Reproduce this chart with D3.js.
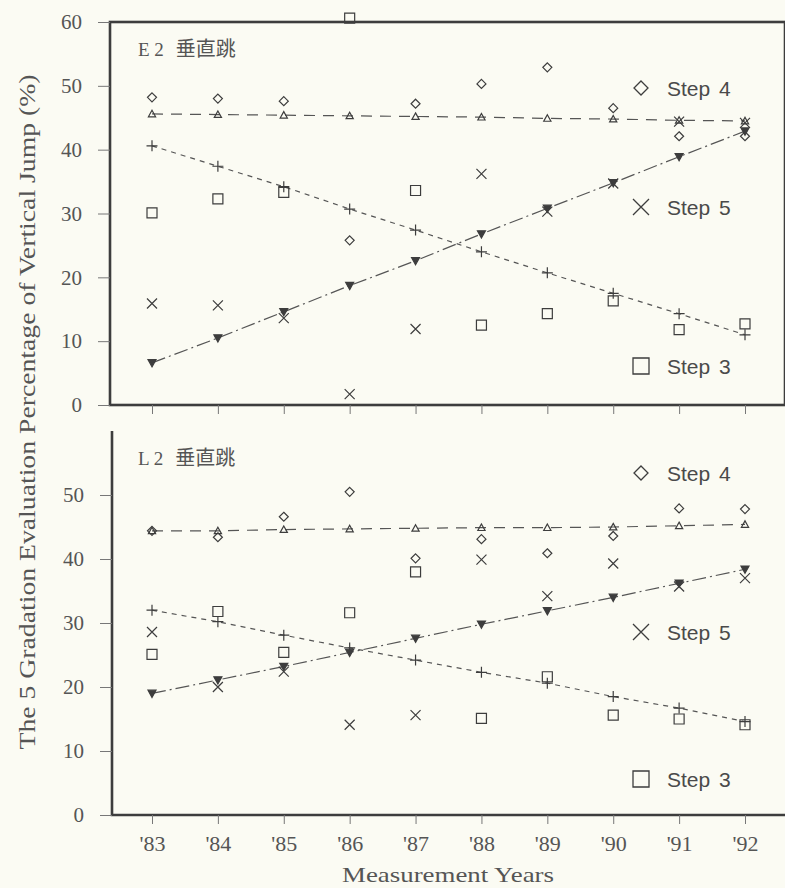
<!DOCTYPE html>
<html>
<head>
<meta charset="utf-8">
<script src="https://cdn.jsdelivr.net/npm/d3@7"></script>
<style>
  html, body { margin: 0; padding: 0; background: #fbfbf3; }
  svg { display: block; }
</style>
</head>
<body>
<svg id="chart" width="785" height="888"></svg>
<script>
'use strict'

const years = ["'83", "'84", "'85", "'86", "'87", "'88", "'89", "'90", "'91", "'92"]
const yTicksTop = [0, 10, 20, 30, 40, 50, 60]
const yTicksBottom = [0, 10, 20, 30, 40, 50]

// E2 panel
const e2Step4 = [48.2, 48.0, 47.6, 25.8, 47.2, 50.3, 52.9, 46.5, 42.1, 42.1]
const e2Step5 = [15.9, 15.6, 13.6, 1.7, 11.9, 36.2, 30.3, 34.7, 44.4, 44.2]
const e2Step3 = [30.1, 32.3, 33.3, 60.6, 33.6, 12.5, 14.3, 16.3, 11.8, 12.7]
const e2TrendUp = [45.6, 45.5, 45.4, 45.3, 45.2, 45.1, 44.9, 44.8, 44.6, 44.5]
const e2TrendPlus = [40.6, 37.4, 34.2, 30.7, 27.4, 24.0, 20.7, 17.5, 14.3, 11.0]
const e2TrendDown = [6.6, 10.5, 14.6, 18.7, 22.6, 26.8, 30.8, 34.8, 38.9, 42.9]

// L2 panel
const l2Step4 = [44.4, 43.4, 46.6, 50.5, 40.1, 43.1, 40.9, 43.6, 47.9, 47.8]
const l2Step5 = [28.6, 20.0, 22.4, 14.1, 15.6, 39.9, 34.2, 39.3, 35.7, 37.0]
const l2Step3 = [25.1, 31.8, 25.4, 31.6, 38.0, 15.1, 21.6, 15.6, 15.0, 14.1]
const l2TrendUp = [44.4, 44.4, 44.6, 44.7, 44.8, 44.9, 44.9, 45.0, 45.2, 45.4]
const l2TrendPlus = [32.0, 30.2, 28.1, 26.1, 24.2, 22.3, 20.6, 18.5, 16.7, 14.6]
const l2TrendDown = [19.0, 21.1, 23.2, 25.4, 27.6, 29.8, 31.9, 34.0, 36.2, 38.4]

const legendLabels = ['Step 4', 'Step 5', 'Step 3']

const INK = '#3d3d3d'
const TEXT = '#555'
const SERIF = '"Liberation Serif", "DejaVu Serif", serif'
const SANS = '"Liberation Sans", Arial, sans-serif'

const svg = d3.select('#chart')
const x = d3.scalePoint().domain(years).range([152, 745])

// marker shapes, centred on 0,0
const markers = {
  diamond: (s) => `M0,${-s}L${s},0L0,${s}L${-s},0Z`,
  square: (s) => `M${-s},${-s}H${s}V${s}H${-s}Z`,
  cross: (s) => `M${-s},${-s}L${s},${s}M${s},${-s}L${-s},${s}`,
  plus: (s) => `M${-s},0H${s}M0,${-s}V${s}`,
  triUp: (s) => `M0,${-s}L${s},${s * 0.8}L${-s},${s * 0.8}Z`,
  triDown: (s) => `M0,${s}L${s},${-s * 0.8}L${-s},${-s * 0.8}Z`
}

function drawPanel(cfg) {
  const y = d3.scaleLinear().domain([0, 60]).range([cfg.bottom, cfg.top])
  const g = svg.append('g').attr('class', 'panel')

  // axis / frame
  if (cfg.box) {
    g.append('rect')
      .attr('x', 110).attr('y', y(60))
      .attr('width', 675).attr('height', y(0) - y(60))
      .attr('fill', 'none').attr('stroke', INK).attr('stroke-width', 2.6)
  } else {
    g.append('path')
      .attr('d', `M112,${y(60)}V${y(0)}H785`)
      .attr('fill', 'none').attr('stroke', INK).attr('stroke-width', 2.6)
  }

  const yAxis = g.append('g')
    .attr('transform', `translate(${cfg.box ? 110 : 112},0)`)
    .call(d3.axisLeft(y).tickValues(cfg.yTicks).tickSize(12).tickPadding(16).tickFormat(d3.format('d')))
  yAxis.select('.domain').remove()
  yAxis.selectAll('line').attr('stroke', '#777').attr('stroke-width', 1)
  yAxis.selectAll('text').attr('font-family', SERIF).attr('font-size', 21).attr('fill', TEXT)

  const xAxis = g.append('g')
    .attr('transform', `translate(0,${y(0)})`)
    .call(d3.axisBottom(x).tickSize(9).tickPadding(11))
  xAxis.select('.domain').remove()
  xAxis.selectAll('line').attr('stroke', '#777').attr('stroke-width', 1)
  if (cfg.xLabels) {
    xAxis.selectAll('text').attr('font-family', SERIF).attr('font-size', 22).attr('fill', TEXT)
  } else {
    xAxis.selectAll('text').remove()
  }

  // panel title
  g.append('text')
    .attr('x', 138).attr('y', y(60) + 34)
    .attr('font-family', SERIF).attr('font-size', 19).attr('fill', TEXT)
    .text(cfg.title[0])
    .append('tspan')
    .attr('dx', 12)
    .attr('font-family', '"Noto Sans CJK JP", sans-serif').attr('font-size', 20)
    .text(cfg.title[1])

  // trend lines
  const trends = [
    { values: cfg.trendUp, dash: '11,8', marker: 'triUp', size: 3.6, fill: 'none' },
    { values: cfg.trendPlus, dash: '5,5', marker: 'plus', size: 5.5, fill: 'none' },
    { values: cfg.trendDown, dash: '14,4,2,4', marker: 'triDown', size: 4, fill: INK }
  ]
  const line = d3.line().x((d, i) => x(years[i])).y(d => y(d))
  trends.forEach(t => {
    g.append('path')
      .attr('d', line(t.values))
      .attr('fill', 'none').attr('stroke', '#555').attr('stroke-width', 1.2)
      .attr('stroke-dasharray', t.dash)
    g.selectAll(null).data(t.values).enter().append('path')
      .attr('transform', (d, i) => `translate(${x(years[i])},${y(d)})`)
      .attr('d', markers[t.marker](t.size))
      .attr('fill', t.fill).attr('stroke', INK).attr('stroke-width', 1.2)
  })

  // scatter series
  const scatters = [
    { values: cfg.step4, marker: 'diamond', size: 4.5 },
    { values: cfg.step5, marker: 'cross', size: 5 },
    { values: cfg.step3, marker: 'square', size: 5 }
  ]
  scatters.forEach(s => {
    g.selectAll(null).data(s.values).enter().append('path')
      .attr('transform', (d, i) => `translate(${x(years[i])},${y(d)})`)
      .attr('d', markers[s.marker](s.size))
      .attr('fill', 'none').attr('stroke', INK).attr('stroke-width', 1.2)
  })

  // legend
  const legendMarkers = ['diamond', 'cross', 'square']
  cfg.legendY.forEach((ly, i) => {
    g.append('path')
      .attr('transform', `translate(641,${ly})`)
      .attr('d', markers[legendMarkers[i]](legendMarkers[i] === 'diamond' ? 7 : 8))
      .attr('fill', 'none').attr('stroke', INK).attr('stroke-width', 1.3)
    g.append('text')
      .attr('x', 667).attr('y', ly + 8)
      .attr('font-family', SANS).attr('font-size', 21).attr('fill', '#4a4a4a')
      .attr('word-spacing', 3)
      .text(legendLabels[i])
  })
}

drawPanel({
  top: 22, bottom: 405, box: true, xLabels: false, yTicks: yTicksTop,
  title: ['E 2', '垂直跳'],
  step4: e2Step4, step5: e2Step5, step3: e2Step3,
  trendUp: e2TrendUp, trendPlus: e2TrendPlus, trendDown: e2TrendDown,
  legendY: [88, 207, 366]
})

drawPanel({
  top: 431, bottom: 815, box: false, xLabels: true, yTicks: yTicksBottom,
  title: ['L 2', '垂直跳'],
  step4: l2Step4, step5: l2Step5, step3: l2Step3,
  trendUp: l2TrendUp, trendPlus: l2TrendPlus, trendDown: l2TrendDown,
  legendY: [473, 632, 779]
})

// axis titles
svg.append('text')
  .attr('transform', 'translate(35,412) rotate(-90)')
  .attr('text-anchor', 'middle')
  .attr('font-family', SERIF).attr('font-size', 23).attr('fill', TEXT)
  .attr('textLength', 675).attr('lengthAdjust', 'spacingAndGlyphs')
  .text('The 5 Gradation Evaluation Percentage of Vertical Jump (%)')

svg.append('text')
  .attr('x', 448).attr('y', 882)
  .attr('text-anchor', 'middle')
  .attr('font-family', SERIF).attr('font-size', 22).attr('fill', TEXT)
  .attr('textLength', 212).attr('lengthAdjust', 'spacingAndGlyphs')
  .text('Measurement Years')
</script>
</body>
</html>
